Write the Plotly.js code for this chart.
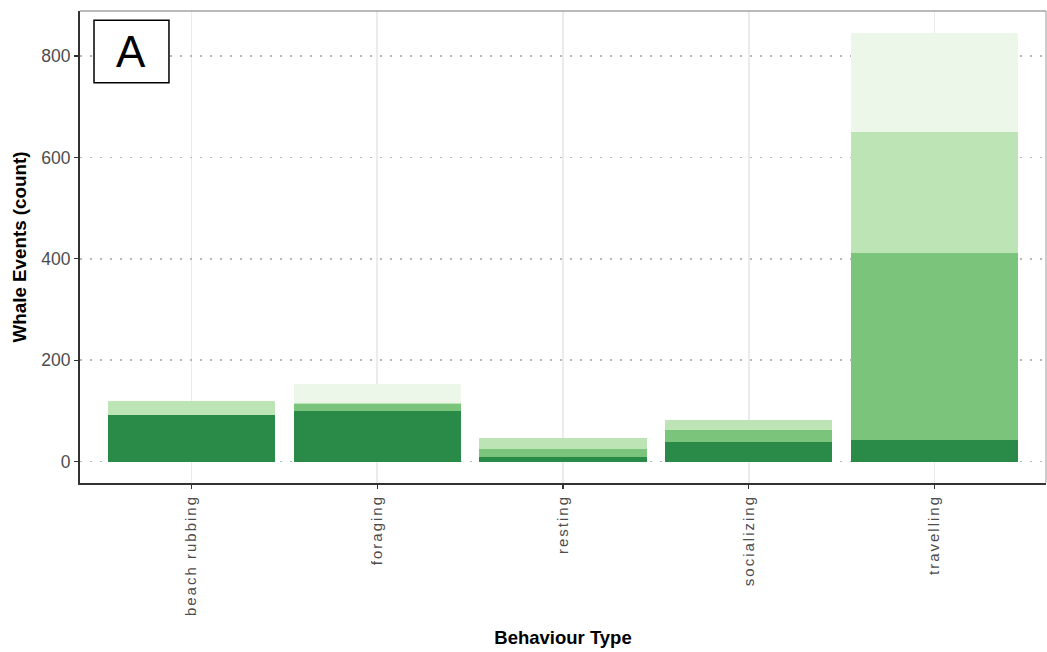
<!DOCTYPE html>
<html>
<head>
<meta charset="utf-8">
<script src="https://cdn.plot.ly/plotly-3.0.1.min.js"></script>
<style>
  html, body { margin: 0; padding: 0; background: #fff; }
  #chart { width: 1047px; height: 652px; }
  .xtick text { letter-spacing: 2px; }
</style>
</head>
<body>
<div id="chart"></div>
<script>
// Categories
const behaviours = ["beach rubbing", "foraging", "resting", "socializing", "travelling"];
// Stacked segment counts, bottom to top
const darkSeg     = [92, 100, 9, 39, 42];
const mediumSeg   = [0, 13, 15, 23, 370];
const lightSeg    = [28, 3, 22, 21, 239];
const lightestSeg = [0, 38, 0, 0, 195];
const yTicks = [0, 200, 400, 600, 800];

const colors = ["#2a8a48", "#7bc47c", "#bde4b5", "#edf7e9"];
const series = [darkSeg, mediumSeg, lightSeg, lightestSeg];

const traces = series.map((vals, i) => ({
  type: "bar",
  x: behaviours,
  y: vals,
  marker: { color: colors[i], line: { width: 0 } },
  showlegend: false,
  hoverinfo: "x+y"
}));

const font = "Liberation Sans, Arial, sans-serif";

const layout = {
  width: 1047, height: 652,
  margin: { l: 80, r: 1, t: 11, b: 169 },
  paper_bgcolor: "#ffffff",
  plot_bgcolor: "#ffffff",
  barmode: "stack",
  bargap: 0.1,
  font: { family: font },
  xaxis: {
    type: "category",
    range: [-0.6, 4.6],
    showgrid: true, gridcolor: "#ebebeb", gridwidth: 1.8,
    zeroline: false,
    showline: true, linecolor: "#333333", linewidth: 2,
    ticks: "outside", ticklen: 4, tickwidth: 1.3, tickcolor: "#333333",
    tickangle: -90,
    tickfont: { family: font, size: 15, color: "#4d4d4d" },
    title: { text: "Behaviour Type", font: { family: font, size: 18.5, color: "#000", weight: "bold" }, standoff: 16 },
    fixedrange: true
  },
  yaxis: {
    range: [-42.3, 889],
    tickvals: yTicks,
    showgrid: true, gridcolor: "#b8b8b8", gridwidth: 1.5, griddash: "2px,8px",
    zeroline: false,
    showline: true, linecolor: "#333333", linewidth: 2,
    ticks: "outside", ticklen: 4, tickwidth: 1.3, tickcolor: "#333333",
    tickfont: { family: font, size: 17.5, color: "#4d4d4d" },
    title: { text: "Whale Events (count)", font: { family: font, size: 18.8, color: "#000", weight: "bold" }, standoff: 10 },
    fixedrange: true
  },
  shapes: [
    { type: "line", xref: "paper", yref: "paper", x0: 0, x1: 1, y0: 1, y1: 1, line: { color: "#777777", width: 1.2 } },
    { type: "line", xref: "paper", yref: "paper", x0: 1, x1: 1, y0: 0, y1: 1, line: { color: "#999999", width: 1 } },
    { type: "rect", xref: "paper", yref: "paper", x0: 0.0145, x1: 0.0921, y0: 0.848, y1: 0.9803, line: { color: "#000000", width: 1.5 }, fillcolor: "#ffffff" }
  ],
  annotations: [
    { xref: "paper", yref: "paper", x: 0.0533, y: 0.914, xanchor: "center", yanchor: "middle",
      text: "A", showarrow: false, font: { family: font, size: 44, color: "#000" } }
  ]
};

Plotly.newPlot("chart", traces, layout, { displayModeBar: false, staticPlot: true });
</script>
</body>
</html>
